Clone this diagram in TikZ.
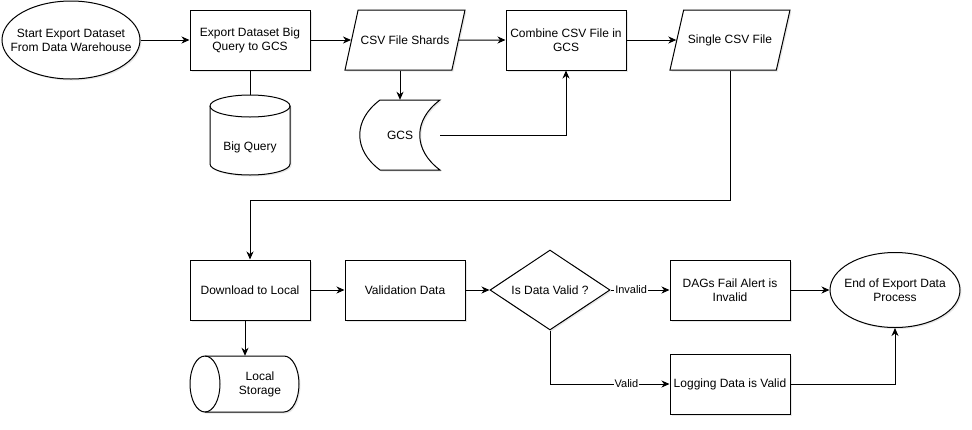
\documentclass[tikz,border=0pt]{standalone}
\usepackage{fontspec}
\setmainfont{Liberation Sans}
\usepackage{tikz}
\usetikzlibrary{arrows.meta}
\usetikzlibrary{shapes.geometric}
\usetikzlibrary{shadows}

\begin{document}
\begin{tikzpicture}[x=1pt, y=-1pt,
    font=\fontsize{12}{14}\selectfont,
    shadowed/.style={fill=white, drop shadow={opacity=0.18, shadow xshift=1.5pt, shadow yshift=-1.5pt}},
    process/.style={draw, shadowed, rectangle, line width=1pt, minimum width=120pt, minimum height=60pt, align=center, inner sep=0pt},
    data/.style={draw, shadowed, trapezium, trapezium left angle=77, trapezium right angle=103, trapezium stretches body=true, line width=1pt, minimum width=120pt, minimum height=60pt, inner xsep=0pt, inner ysep=24pt},
    terminal/.style={draw, shadowed, ellipse, line width=1pt, align=center, inner xsep=-20pt, inner ysep=0pt},
    decision/.style={draw, shadowed, diamond, aspect=1.5, line width=1pt, minimum width=120pt, minimum height=80pt, inner sep=0pt},
    holder/.style={rectangle, inner sep=0pt},
    link/.style={line width=1pt},
    flow/.style={link, -{Stealth[length=8pt, width=7pt, inset=2.5pt]}},
    tag/.style={fill=white, font=\fontsize{11}{12}\selectfont, inner sep=1pt}]

    \useasboundingbox (0,0) rectangle (972,429);

    % top row
    \node[terminal, minimum width=138pt, minimum height=78pt] (A) at (71,40) {Start Export Dataset\\From Data Warehouse};
    \node[process] (B) at (250,40) {Export Dataset Big\\Query to GCS};
    \node[data] (C) at (405,40) {CSV File Shards};
    \node[process] (D) at (566,40) {Combine CSV File in\\GCS};
    \node[data] (E) at (730,40) {Single CSV File};

    % big query cylinder
    \draw[link, shadowed] (210,106) -- (210,164) arc[start angle=180, end angle=360, x radius=40pt, y radius=11pt] -- (290,106) arc[start angle=0, end angle=180, x radius=40pt, y radius=11pt] -- cycle;
    \draw[link] (210,106) arc[start angle=180, end angle=360, x radius=40pt, y radius=11pt];
    \node[holder, minimum width=80pt, minimum height=80pt, label={[yshift=-12pt]center:Big Query}] (F) at (250,135) {};

    % gcs storage
    \draw[link, shadowed, shift={(400,135)}] (-20,-35) -- (40,-35) .. controls (13,-15) and (13,15) .. (40,35) -- (-20,35) .. controls (-47,15) and (-47,-15) .. (-20,-35) -- cycle;
    \node[holder, minimum width=80pt, minimum height=70pt] (G) at (400,135) {GCS};

    % bottom row
    \node[process] (H) at (250,290) {Download to Local};
    \node[process] (I) at (405,290) {Validation Data};
    \node[decision] (J) at (550,290) {Is Data Valid ?};
    \node[process] (K) at (730,290) {DAGs Fail Alert is\\Invalid};
    \node[terminal, minimum width=130pt, minimum height=75pt] (L) at (895,290) {End of Export Data\\Process};
    \node[process] (M) at (730,384) {Logging Data is Valid};

    % local storage cylinder
    \draw[link, shadowed] (205,356) -- (284,356) arc[start angle=90, end angle=-90, x radius=15pt, y radius=28pt] -- (205,412) arc[start angle=270, end angle=90, x radius=15pt, y radius=28pt] -- cycle;
    \draw[link] (205,356) arc[start angle=90, end angle=-90, x radius=15pt, y radius=28pt];
    \node[holder, minimum width=109pt, minimum height=56pt, label={[xshift=15pt, align=center]center:Local\\Storage}] (N) at (245,384) {};

    \draw[flow] (A) -- (B);
    \draw[flow] (B) -- (C);
    \draw[flow] (C) -- (D);
    \draw[flow] (D) -- (E);
    \draw[link] (B) -- (F);
    \draw[flow] (C.south -| G.north) -- (G.north);
    \draw[flow] (G.east) -| (D.south);
    \draw[flow] (E.south) -- ++(0,130) -| (H.north);
    \draw[flow] (H.south -| N.north) -- (N.north);
    \draw[flow] (H) -- (I);
    \draw[flow] (I) -- (J);
    \draw[flow] (J) -- (K) node[tag, pos=0.35] {Invalid};
    \draw[flow] (J) |- (M) node[tag, pos=0.82] {Valid};
    \draw[flow] (K) -- (L);
    \draw[flow] (M) -| (L);

\end{tikzpicture}
\end{document}
